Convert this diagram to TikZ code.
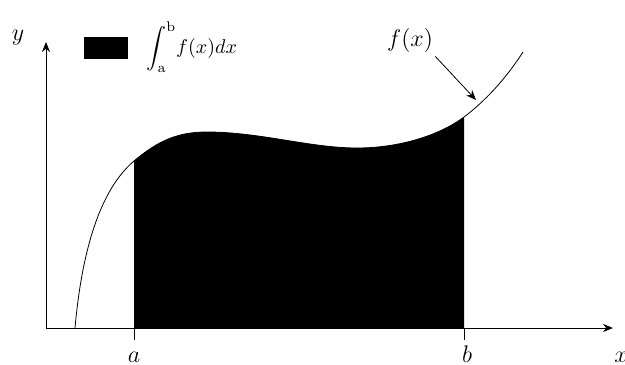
\documentclass[tikz,border=0pt]{standalone}
\usepackage{amsmath,amssymb}
\usepackage{tikz}
\usetikzlibrary{arrows.meta,calc,positioning}
\definecolor{ink}{HTML}{000000}

\begin{document}
\begin{tikzpicture}[x=0.5pt,y=-0.5pt,axis/.style={line width=0.5pt,ink,-{Stealth[length=5pt,width=4pt]}},tickline/.style={line width=0.5pt,ink},lbl/.style={inner sep=0pt,font=\large}]
\useasboundingbox (0,0) rectangle (625,364);
\coordinate (O) at (46,328);
\coordinate (xend) at (613,328);
\coordinate (yend) at (46,42);
\def\curvepath{(75,328) .. controls (82,250) and (100,190) .. (134,161) .. controls (160,139) and (180,132) .. (207,132) .. controls (260,132) and (310,148) .. (357,148) .. controls (400,148) and (440,135) .. (464,117) .. controls (484,102) and (505,80) .. (523,52)}
% area under the curve between a and b
\begin{scope}
\clip (134,0) rectangle (464,328);
\fill[ink] \curvepath -- (523,328) -- (75,328) -- cycle;
\end{scope}
\draw[line width=0.4pt,ink] \curvepath;
\draw[axis] (O) -- (xend);
\draw[axis] (O) -- (yend);
\coordinate (ta) at (134,340);
\coordinate (tb) at (464,340);
\draw[tickline] (ta) -- (ta |- O);
\draw[tickline] (tb) -- (tb |- O);
\node[lbl,anchor=base] (la) at (134,362) {$a$};
\node[lbl,anchor=base] (lb) at (467,362) {$b$};
\node[lbl,anchor=base] (lx) at (621,362) {$x$};
\node[lbl] (ly) at (18,38) {$y$};
% legend
\node[fill=ink,minimum width=22pt,minimum height=11pt,inner sep=0pt] (key) at (106,48) {};
\node[inner sep=0pt,anchor=west,font=\normalsize] (integral) at (146,47) {$\displaystyle\int_{\mathrm{a}}^{\mathrm{b}}\! f(x)dx$};
% label of the curve
\node[lbl] (fx) at (410,40) {$f(x)$};
\coordinate (fxtip) at (476,100);
\draw[line width=0.4pt,ink,-{Stealth[length=5pt,width=4pt]}] (fx.south east) ++(2,4) -- (fxtip);
\end{tikzpicture}
\end{document}
